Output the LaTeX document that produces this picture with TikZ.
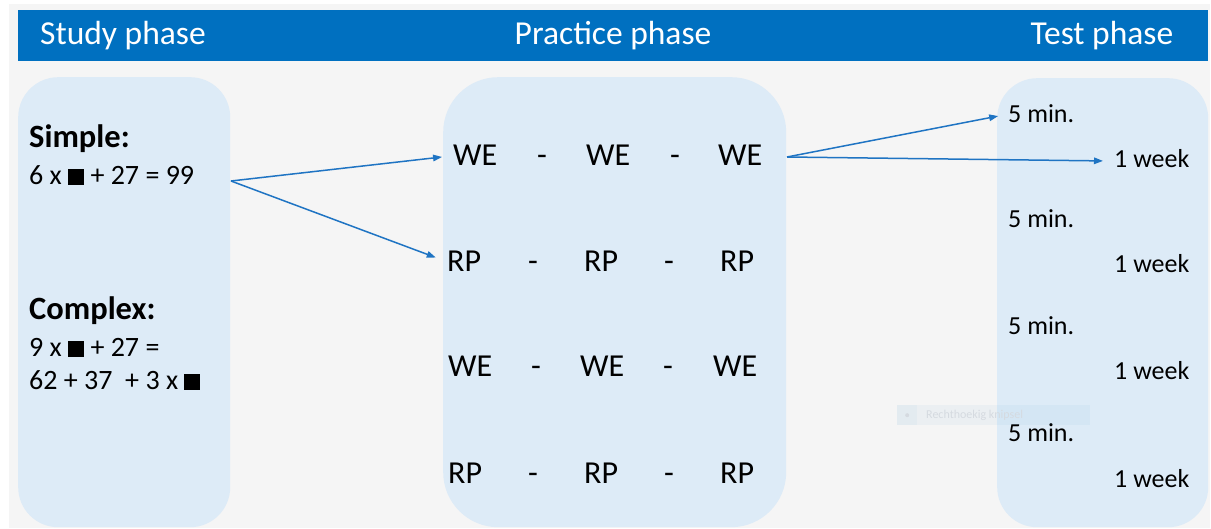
\documentclass[tikz,border=0pt]{standalone}
\usepackage{fontspec}
\setmainfont{Carlito}
\usetikzlibrary{arrows.meta}
\definecolor{hdr}{HTML}{0070C0}
\definecolor{pnl}{HTML}{DDEBF7}
\definecolor{bgc}{HTML}{F5F5F5}
\definecolor{arr}{HTML}{1F74C3}
\definecolor{ghost}{HTML}{D5DAE0}
\newcommand\blk{\rule{16pt}{16pt}}
\begin{document}
\begin{tikzpicture}[x=1pt,y=-1pt,
  panel/.style={fill=pnl, draw=none, anchor=north west, inner sep=0},
  hdtext/.style={text=white, font=\fontsize{33.5}{40}\selectfont, anchor=base, inner sep=0},
  lbl/.style={font=\fontsize{28}{33}\selectfont, anchor=base west, inner sep=0},
  lblb/.style={font=\bfseries\fontsize{32.5}{38}\selectfont, anchor=base west, inner sep=0},
  tok/.style={font=\fontsize{32}{38}\selectfont, anchor=base west, inner sep=0},
  tst/.style={font=\fontsize{26}{31}\selectfont, anchor=base west, inner sep=0},
  conn/.style={draw=arr, line width=1.5pt, -{Triangle[length=9pt,width=6.5pt]}},
]
\useasboundingbox (0,0) rectangle (1211,529);
\fill[white] (0,0) rectangle (1211,529);
\fill[bgc] (9,4) rectangle (1210,528);
% header
\node[fill=hdr, anchor=north west, minimum width=1190pt, minimum height=51pt, inner sep=0] (header) at (18,10) {};
\node[hdtext] (hstudy) at (123,45) {Study phase};
\node[hdtext] (hpractice) at (613,45) {Practice phase};
\node[hdtext] (htest) at (1102,45) {Test phase};
% panels
\node[panel, minimum width=212pt, minimum height=450pt, rounded corners=40pt] (study) at (18,77) {};
\node[panel, minimum width=343pt, minimum height=450pt, rounded corners=55pt] (practice) at (443,77) {};
\node[panel, minimum width=211pt, minimum height=449pt, rounded corners=40pt] (test) at (997,78) {};
% study texts
\node[lblb] (simple) at (29,148) {Simple:};
\node[lbl] (eqs) at (29,185) {6 x \blk{} + 27 = 99};
\node[lblb] (complex) at (29,320) {Complex:};
\node[lbl] (eqc1) at (29,357) {9 x \blk{} + 27 =};
\node[lbl] (eqc2) at (29,390) {62 + 37\ \ + 3 x \blk};
% practice rows
\node[tok] (we1) at (453,166) {WE};
\node[tok] (d11) at (537,166) {-};
\node[tok] (we2) at (586,166) {WE};
\node[tok] (d12) at (670,166) {-};
\node[tok] (we3) at (718,166) {WE};
\node[tok] (rp1) at (447,272) {RP};
\node[tok] (d21) at (528,272) {-};
\node[tok] (rp2) at (584,272) {RP};
\node[tok] (d22) at (664,272) {-};
\node[tok] (rp3) at (720,272) {RP};
\node[tok] (we4) at (448,377) {WE};
\node[tok] (d31) at (531,377) {-};
\node[tok] (we5) at (580,377) {WE};
\node[tok] (d32) at (663,377) {-};
\node[tok] (we6) at (713,377) {WE};
\node[tok] (rp4) at (448,483) {RP};
\node[tok] (d41) at (528,483) {-};
\node[tok] (rp5) at (584,483) {RP};
\node[tok] (d42) at (664,483) {-};
\node[tok] (rp6) at (720,483) {RP};
% test texts
\node[tst] (m1) at (1008,123) {5 min.};
\node[tst] (w1) at (1114,168) {1 week};
\node[tst] (m2) at (1008,228) {5 min.};
\node[tst] (w2) at (1114,273) {1 week};
\node[tst] (m3) at (1008,335) {5 min.};
\node[tst] (w3) at (1114,380) {1 week};
\node[tst] (m4) at (1008,442) {5 min.};
\node[tst] (w4) at (1114,487) {1 week};
% faint snipping artifact
\node[fill=hdr, fill opacity=0.04, anchor=north west, minimum width=193pt, minimum height=20pt, inner sep=0] (ghostbox) at (897,405) {};
\node[fill=hdr, fill opacity=0.03, anchor=north west, minimum width=20pt, minimum height=20pt, inner sep=0] (ghostsq) at (897,405) {};
\fill[ghost] (ghostsq.center) circle (2pt);
\node[text=ghost, font=\fontsize{12}{14}\selectfont, anchor=base west, inner sep=0] (ghosttxt) at (926,419) {Rechthoekig knipsel};
% connectors
\coordinate (sa) at (231,181);
\coordinate (pa) at (787,157);
\draw[conn, shorten >=11pt] (sa) -- (we1.west);
\draw[conn, shorten >=12pt] (sa) -- (rp1.west);
\draw[conn, shorten >=10pt] (pa) -- (m1.west);
\draw[conn, shorten >=11pt] (pa) -- ([yshift=-2pt]w1.west);
\end{tikzpicture}
\end{document}
